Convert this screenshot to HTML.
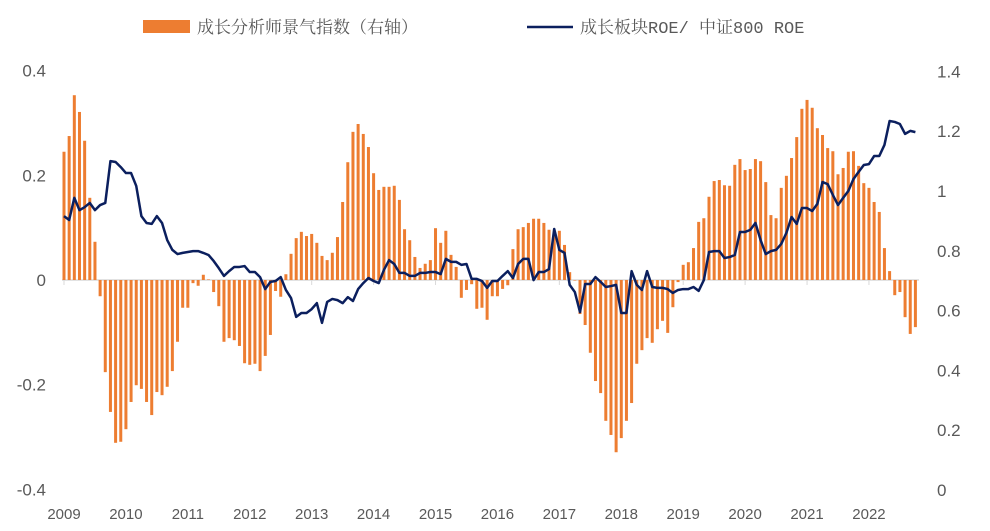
<!DOCTYPE html>
<html><head><meta charset="utf-8">
<style>
html,body{margin:0;padding:0;background:#fff;}
svg{display:block;}
text{font-family:"Liberation Sans","Noto Sans CJK SC",sans-serif;fill:#595959;}
</style></head>
<body>
<svg id="chart" width="990" height="531" viewBox="0 0 990 531" xmlns="http://www.w3.org/2000/svg">
  <g>
    <rect x="143" y="20" width="47" height="13" fill="#ED7D31"/>
    <text x="197" y="33" font-size="17" style="font-family:'Liberation Mono','Noto Serif CJK SC',serif">成长分析师景气指数（右轴）</text>
    <line x1="527" y1="27" x2="573" y2="27" stroke="#0B1F5E" stroke-width="2.5"/>
    <text x="580" y="33" font-size="17" style="font-family:'Liberation Mono','Noto Serif CJK SC',serif">成长板块ROE/ 中证800 ROE</text>
  </g>
  <g id="leftAxis"></g>
  <g id="rightAxis"></g>
  <g id="xAxis"></g>
  <g id="bars"></g>
  <g id="lineG"></g>
</svg>
<script>
const yearLabels = ["2009","2010","2011","2012","2013","2014","2015","2016","2017","2018","2019","2020","2021","2022"];
const leftTicks = [0.4,0.2,0,-0.2,-0.4];
const leftTickLabels = ["0.4","0.2","0","-0.2","-0.4"];
const rightTicks = [1.4,1.2,1,0.8,0.6,0.4,0.2,0];
const rightTickLabels = ["1.4","1.2","1","0.8","0.6","0.4","0.2","0"];
const barValues = [0.245,0.275,0.353,0.321,0.266,0.157,0.073,-0.031,-0.176,-0.252,-0.311,-0.309,-0.285,-0.233,-0.201,-0.208,-0.233,-0.258,-0.214,-0.220,-0.204,-0.174,-0.118,-0.053,-0.053,-0.006,-0.011,0.010,0.001,-0.023,-0.050,-0.118,-0.111,-0.115,-0.126,-0.159,-0.162,-0.160,-0.174,-0.145,-0.105,-0.021,-0.032,0.011,0.050,0.080,0.092,0.084,0.088,0.071,0.046,0.038,0.052,0.082,0.149,0.225,0.283,0.298,0.279,0.254,0.204,0.172,0.178,0.178,0.180,0.153,0.097,0.076,0.044,0.023,0.031,0.038,0.099,0.071,0.094,0.048,0.025,-0.034,-0.019,-0.008,-0.055,-0.053,-0.076,-0.031,-0.031,-0.017,-0.010,0.059,0.097,0.101,0.109,0.117,0.117,0.109,0.096,0.092,0.094,0.067,0.015,0.000,-0.065,-0.086,-0.139,-0.193,-0.216,-0.269,-0.296,-0.329,-0.302,-0.269,-0.235,-0.160,-0.134,-0.111,-0.120,-0.094,-0.078,-0.101,-0.052,-0.004,0.029,0.034,0.061,0.111,0.118,0.159,0.189,0.191,0.181,0.180,0.220,0.231,0.210,0.212,0.231,0.227,0.187,0.124,0.118,0.176,0.199,0.233,0.273,0.327,0.344,0.329,0.290,0.277,0.252,0.246,0.202,0.214,0.245,0.246,0.218,0.185,0.176,0.149,0.130,0.061,0.017,-0.029,-0.023,-0.071,-0.103,-0.090];
const lineValues = [0.916,0.903,0.977,0.936,0.946,0.960,0.936,0.953,0.960,1.100,1.097,1.080,1.060,1.060,1.017,0.916,0.893,0.890,0.916,0.893,0.836,0.803,0.789,0.793,0.796,0.799,0.799,0.793,0.786,0.766,0.742,0.716,0.732,0.746,0.746,0.749,0.729,0.729,0.712,0.672,0.696,0.699,0.712,0.669,0.642,0.579,0.592,0.592,0.605,0.625,0.559,0.629,0.639,0.635,0.625,0.645,0.632,0.672,0.692,0.709,0.699,0.692,0.736,0.769,0.756,0.726,0.726,0.716,0.716,0.726,0.726,0.729,0.729,0.722,0.773,0.763,0.763,0.753,0.756,0.706,0.706,0.699,0.676,0.699,0.699,0.716,0.732,0.709,0.756,0.773,0.773,0.702,0.729,0.729,0.739,0.873,0.803,0.793,0.686,0.662,0.595,0.689,0.689,0.712,0.696,0.679,0.682,0.686,0.592,0.592,0.732,0.686,0.669,0.732,0.679,0.676,0.676,0.672,0.659,0.669,0.672,0.672,0.679,0.666,0.702,0.796,0.799,0.799,0.776,0.779,0.786,0.863,0.863,0.870,0.893,0.836,0.789,0.799,0.803,0.823,0.860,0.913,0.890,0.943,0.943,0.933,0.957,1.030,1.023,0.987,0.953,0.977,1.000,1.040,1.064,1.087,1.090,1.117,1.117,1.154,1.234,1.231,1.224,1.191,1.201,1.197];

const NS = "http://www.w3.org/2000/svg";
const X0 = 64, MONTH = 5.16;
function xScale(i){ return X0 + i*MONTH; }
function yLeft(v){ return 280 - v*523.5; }
function yRight(v){ return 490 - v*299; }
function mk(tag, attrs, parent){
  const e = document.createElementNS(NS, tag);
  for (const k in attrs) e.setAttribute(k, attrs[k]);
  parent.appendChild(e); return e;
}
const la = document.getElementById('leftAxis');
leftTicks.forEach((v,i)=>{
  const t = mk('text',{x:46,y:yLeft(v)+6,'text-anchor':'end','font-size':17},la);
  
  
  t.textContent = leftTickLabels[i];
});
const ra = document.getElementById('rightAxis');
rightTicks.forEach((v,i)=>{
  const t = mk('text',{x:937,y:yRight(v)+6,'text-anchor':'start','font-size':17},ra);
  
  
  t.textContent = rightTickLabels[i];
});
const xa = document.getElementById('xAxis');
const base = mk('line',{x1:62,y1:yLeft(0),x2:919,y2:yLeft(0),stroke:'#D9D9D9','stroke-width':1.5},xa);


yearLabels.forEach((lab,k)=>{
  const x = xScale(k*12);
  const tk = mk('line',{x1:x,y1:yLeft(0),x2:x,y2:yLeft(0)+5,stroke:'#D9D9D9','stroke-width':1},xa);
  
  
  const t = mk('text',{x:x,y:519,'text-anchor':'middle','font-size':15},xa);
  
  
  t.textContent = lab;
});
const bg = document.getElementById('bars');
barValues.forEach((v,i)=>{
  const y0 = yLeft(0), y1 = yLeft(v);
  const r = mk('rect',{x:xScale(i)-1.5,y:Math.min(y0,y1),width:3,height:Math.max(0.5,Math.abs(y1-y0)),fill:'#ED7D31'},bg);
  
  
});
const lg = document.getElementById('lineG');
const pts = lineValues.map((v,i)=>xScale(i).toFixed(2)+','+yRight(v).toFixed(2)).join(' ');
const pl = mk('polyline',{points:pts,fill:'none',stroke:'#0B1F5E','stroke-width':2.5,'stroke-linejoin':'round'},lg);


</script>
</body></html>
